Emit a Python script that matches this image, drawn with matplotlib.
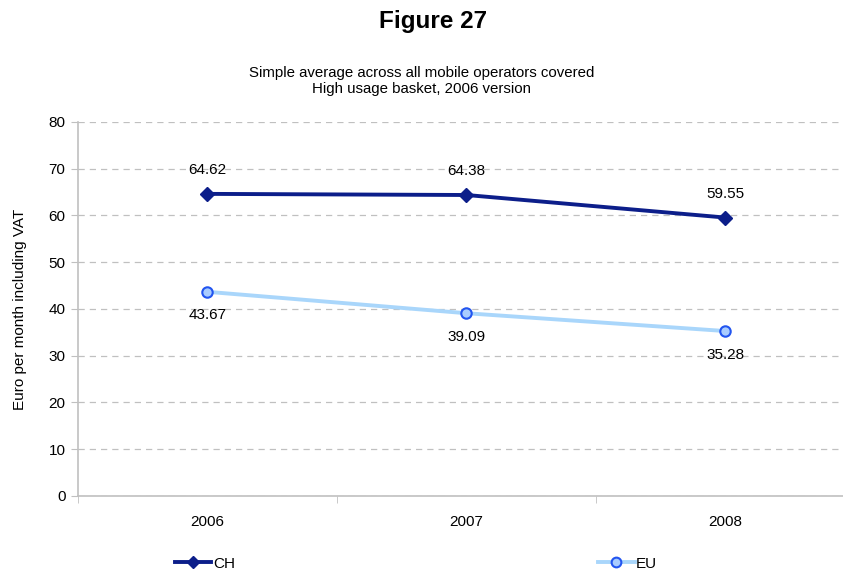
import numpy as np
import matplotlib.pyplot as plt
from matplotlib.lines import Line2D

plt.rcParams['font.family'] = ['Liberation Sans', 'DejaVu Sans']

years = ['2006', '2007', '2008']
ch_values = [64.62, 64.38, 59.55]
eu_values = [43.67, 39.09, 35.28]

ch_color = '#0C1E8A'
eu_line = '#A9D6FB'
eu_edge = '#2255F0'
eu_face = '#A9CCFF'
grey = '#C0C0C0'

fig = plt.figure(figsize=(8.43, 5.74), dpi=100)
ax = fig.add_axes([0.0925, 0.1359, 0.9217, 0.6516])

x = np.arange(len(years))

ax.plot(x, ch_values, color=ch_color, lw=2.8, marker='D', markersize=7,
        markerfacecolor=ch_color, markeredgecolor=ch_color, zorder=3)
ax.plot(x, eu_values, color=eu_line, lw=2.8, marker='o', markersize=7.5,
        markerfacecolor=eu_face, markeredgecolor=eu_edge, markeredgewidth=1.5, zorder=3)

for xi, v in zip(x, ch_values):
    ax.annotate(f'{v:.2f}', (xi, v), xytext=(0, 17), textcoords='offset points',
                ha='center', va='center', fontsize=11)
for xi, v in zip(x, eu_values):
    ax.annotate(f'{v:.2f}', (xi, v), xytext=(0, -17), textcoords='offset points',
                ha='center', va='center', fontsize=11)

ax.set_xlim(-0.5, 2.5)
ax.set_ylim(0, 80)
ax.set_yticks(np.arange(0, 81, 10))
ax.set_xticks(x)
ax.set_xticklabels(years)
ax.set_xticks([-0.5, 0.5, 1.5, 2.5], minor=True)
ax.tick_params(axis='x', which='major', length=0, labelsize=11, pad=14)
ax.tick_params(axis='x', which='minor', length=5, color=grey)
ax.tick_params(axis='y', length=5, color=grey, labelsize=11, pad=4)

ax.grid(axis='y', color=grey, linestyle=(0, (5, 4)), lw=0.9)
ax.set_axisbelow(True)
for side in ['top', 'right']:
    ax.spines[side].set_visible(False)
for side in ['left', 'bottom']:
    ax.spines[side].set_color(grey)
    ax.spines[side].set_linewidth(1.2)

fig.text(0.024, 0.4617, 'Euro per month including VAT', rotation=90,
         ha='center', va='center', fontsize=11)

fig.text(0.514, 0.963, 'Figure 27', ha='center', va='center', fontsize=17.5, fontweight='bold')
fig.text(0.5, 0.859, 'Simple average across all mobile operators covered\nHigh usage basket, 2006 version',
         ha='center', va='center', fontsize=10.85, linespacing=1.17)

ch_handle = Line2D([], [], color=ch_color, lw=2.8, marker='D', markersize=6)
eu_handle = Line2D([], [], color=eu_line, lw=2.8, marker='o', markersize=7,
                   markerfacecolor=eu_face, markeredgecolor=eu_edge, markeredgewidth=1.5)
fig.legend([ch_handle], ['CH'], loc='center left', bbox_to_anchor=(0.200, 0.018),
           frameon=False, fontsize=11, handlelength=2.4, handletextpad=0.1, borderaxespad=0)
fig.legend([eu_handle], ['EU'], loc='center left', bbox_to_anchor=(0.702, 0.018),
           frameon=False, fontsize=11, handlelength=2.4, handletextpad=0.1, borderaxespad=0)

fig.savefig('out.png', dpi=100)
